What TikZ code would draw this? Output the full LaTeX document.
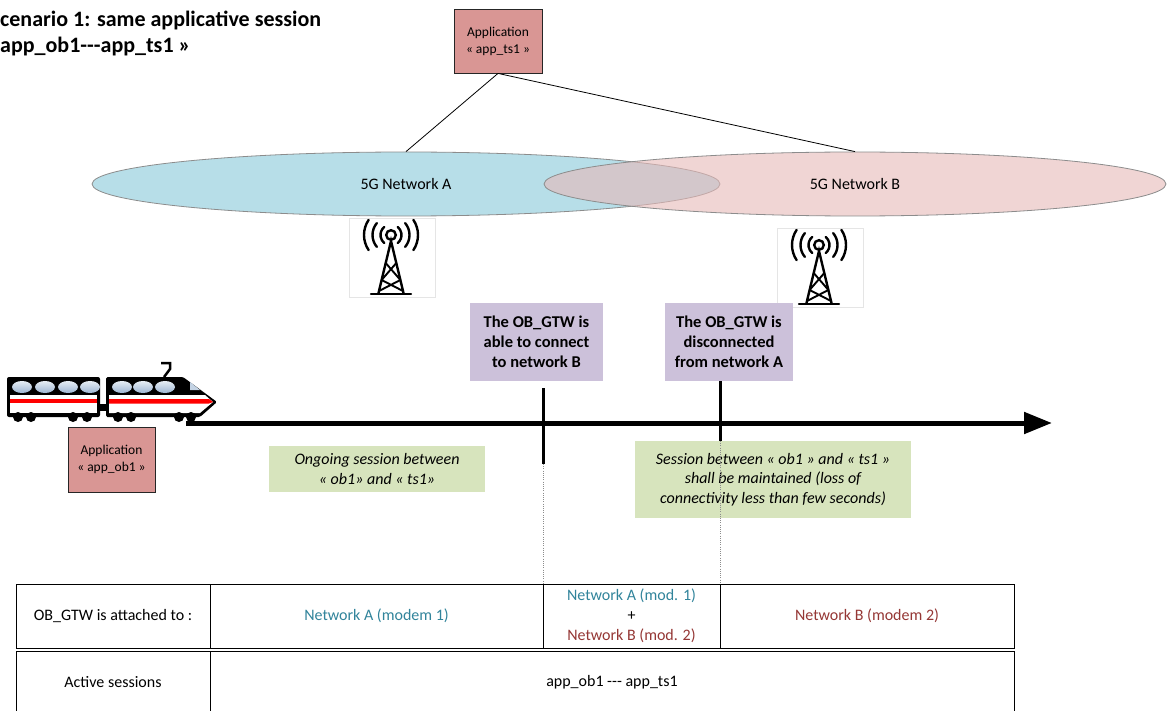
\documentclass[tikz,border=0pt]{standalone}
\usepackage{fontspec}
\setmainfont{Carlito}[Ligatures=TeXOff]
\usetikzlibrary{shapes.geometric,arrows.meta}

\definecolor{appred}{HTML}{D99694}
\definecolor{netblue}{HTML}{B7DEE8}
\definecolor{netpink}{HTML}{E6B9B8}
\definecolor{eventlilac}{HTML}{CCC1DA}
\definecolor{notegreen}{HTML}{D7E4BD}
\definecolor{netteal}{HTML}{31849B}
\definecolor{netbrick}{HTML}{953735}
\definecolor{winblue}{HTML}{9DB6D3}

\tikzset{
  radiomast/.pic={
    \fill[white] (-42,-17) rectangle (44,62);
    \draw[black!10, line width=0.6pt] (-42,-17) rectangle (44,62);
    \begin{scope}[line width=2.4pt, line cap=round]
      \draw (0,0) circle[radius=4.8pt];
      \foreach \r/\a in {10.5pt/50,18.5pt/40,27pt/34} {
        \draw ([shift={(-\a:\r)}]0,0) arc[start angle=-\a,end angle=\a,radius=\r];
        \draw ([shift={(180-\a:\r)}]0,0) arc[start angle=180-\a,end angle=180+\a,radius=\r];
      }
      \draw[line join=miter] (-12.5,58) -- (0,6) -- (12.5,58);
      \draw[line width=1.9pt] (-5.3,28) -- (9.4,45) (5.3,28) -- (-9.4,45)
                              (-9.4,45) -- (12,56) (9.4,45) -- (-12,56);
      \draw (-20,59) -- (20,59);
    \end{scope}
  }
}

\begin{document}
\begin{tikzpicture}[x=1pt,y=-1pt,
  titletext/.style={anchor=base west, inner sep=0pt, font=\bfseries\fontsize{22}{26}\selectfont},
  appbox/.style={draw=black!85, line width=0.8pt, fill=appred, inner sep=0pt, align=center,
                 minimum width=88pt, minimum height=64pt, font=\fontsize{13.5}{17}\selectfont},
  netzone/.style={ellipse, draw=black!45, line width=0.8pt, inner sep=0pt,
                  minimum height=64pt, font=\fontsize{16}{20}\selectfont},
  eventbox/.style={fill=eventlilac, inner sep=0pt, align=center, minimum height=78pt,
                   font=\bfseries\fontsize{16.5}{20}\selectfont},
  notebox/.style={fill=notegreen, inner sep=0pt, align=center,
                  font=\itshape\fontsize{16}{19.5}\selectfont},
  marker/.style={line width=3pt},
  guide/.style={draw=black!45, line width=0.6pt, dash pattern=on 1pt off 1.2pt},
  cell/.style={draw=black, line width=0.8pt, inner sep=0pt, align=center,
               font=\fontsize{16}{20}\selectfont},
  windowpane/.style={top color=white!75!winblue, bottom color=winblue}
]
\useasboundingbox (0,0) rectangle (1167,711);
\fill[white] (0,0) rectangle (1167,711);

% heading
\node[titletext] (title1) at (0,27) {cenario 1: same applicative session};
\node[titletext] (title2) at (0,53) {app\_ob1---app\_ts1 »};

% remote application and the two 5G networks
\node[appbox] (appts) at (498,41) {Application\\« app\_ts1 »};
\node[netzone, fill=netblue, minimum width=628pt] (netA) at (406,184) {5G Network A};
\node[netzone, fill=netpink, fill opacity=0.6, text opacity=1, minimum width=622pt] (netB) at (855,184) {5G Network B};
\draw[line width=0.8pt] (appts.south) -- (netA.north);
\draw[line width=0.8pt] (appts.south) -- (netB.north);

% base stations
\pic at (391,235) {radiomast};
\pic at (819,245) {radiomast};

% events on the journey
\node[eventbox, minimum width=133pt] (evB) at (536.5,342) {The OB\_GTW is\\able to connect\\to network B};
\node[eventbox, minimum width=128pt] (evA) at (729,342) {The OB\_GTW is\\disconnected\\from network A};

% train: rear car
\fill[black, rounded corners=2pt] (7,377) rectangle (100,417);
\fill[white] (10,395) rectangle (97,413);
\fill[red] (10,399) rectangle (97,403);
\foreach \wx in {22,45,68,90} \shade[windowpane] (\wx,387) ellipse[x radius=10pt, y radius=6pt];
\foreach \wx in {18,31,73,87} \fill (\wx,417) circle[radius=5pt];
\fill (99,404) rectangle (107,411);
% train: front car
\fill[black, rounded corners=1.5pt] (106,377) -- (183,377) -- (217,402) -- (200,417) -- (106,417) -- cycle;
\fill[white] (109,395) -- (205,395) -- (213,402) -- (200,413) -- (109,413) -- cycle;
\fill[red] (109,399) -- (209,399) -- (213,402) -- (209,403.5) -- (109,403.5) -- cycle;
\foreach \wx in {122,143,165} \shade[windowpane] (\wx,387) ellipse[x radius=10pt, y radius=6pt];
\fill[winblue!60] (190,382) -- (200,390) -- (190,390) -- cycle;
\foreach \wx in {118,131,179,191} \fill (\wx,417) circle[radius=5pt];
\draw[line width=2.5pt, line join=miter] (161,363) -- (170,363) -- (170,369) -- (164,377);

% time line
\coordinate (railstart) at (186,423);
\coordinate (railend) at (1052,423);
\draw[line width=5pt, -{Triangle[length=28pt,width=21pt]}] (railstart) -- (railend);

% on-board application
\node[appbox, minimum width=87pt, minimum height=65pt] (appob) at (111.5,459.5) {Application\\« app\_ob1 »};

% notes
\node[notebox, minimum width=216pt, minimum height=46pt] (note1) at (377,469) {Ongoing session between\\« ob1» and « ts1»};
\node[notebox, minimum width=276pt, minimum height=77pt] (note2) at (773,479.5) {Session between « ob1 » and « ts1 »\\shall be maintained (loss of\\connectivity less than few seconds)};

% event markers
\coordinate (mB1) at (543,388);
\coordinate (mB2) at (543,464);
\coordinate (mB3) at (543,584);
\coordinate (mA1) at (720,381);
\coordinate (mA2) at (720,441);
\coordinate (mA3) at (720,584);
\draw[marker] (mB1) -- (mB2);
\draw[guide] (mB2) -- (mB3);
\draw[marker] (mA1) -- (mA2);
\draw[guide] (mA2) -- (mA3);

% status table
\node[cell, minimum width=194pt, minimum height=64pt] (attLabel) at (113,616) {OB\_GTW is attached to :};
\node[cell, minimum width=333pt, minimum height=64pt, text=netteal] (attA) at (376.5,616) {Network A (modem 1)};
\node[cell, minimum width=177pt, minimum height=64pt] (attAB) at (631.5,616)
  {\textcolor{netteal}{Network A (mod. 1)}\\+\\\textcolor{netbrick}{Network B (mod. 2)}};
\node[cell, minimum width=294pt, minimum height=64pt, text=netbrick] (attB) at (867,616) {Network B (modem 2)};
\node[cell, minimum width=194pt, minimum height=62pt] (sessLabel) at (113,682) {Active sessions};
\node[cell, minimum width=804pt, minimum height=62pt] (sessList) at (612,682) {app\_ob1 --- app\_ts1};
\end{tikzpicture}
\end{document}
